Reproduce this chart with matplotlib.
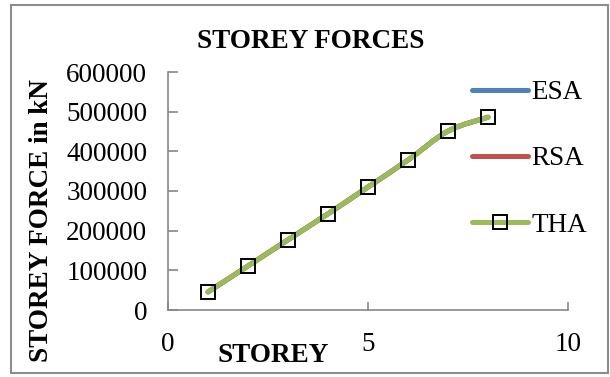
import numpy as np
import matplotlib.pyplot as plt
from matplotlib.path import Path
from matplotlib.patches import PathPatch, Rectangle
from matplotlib.lines import Line2D

# Storey forces (kN) from the three analyses
storey = [1, 2, 3, 4, 5, 6, 7, 8]
esa = [45500, 111000, 177000, 242500, 310000, 378000, 451000, 486000]
rsa = [45500, 111000, 177000, 242500, 310000, 378000, 451000, 486000]
tha = [45500, 111000, 177000, 242500, 310000, 378000, 451000, 486000]

colors = {"ESA": "#4F81BD", "RSA": "#C0504D", "THA": "#9BBB59"}

plt.rcParams['font.family'] = ['Liberation Serif', 'DejaVu Serif']
FS = 19.5


def smooth_path(x, y):
    # Catmull-Rom curve through the points, written as cubic Bezier pieces
    p = np.column_stack([x, y]).astype(float)
    pts = np.vstack([p[0], p, p[-1]])
    verts = [p[0]]
    codes = [Path.MOVETO]
    for i in range(1, len(pts) - 2):
        p0, p1, p2, p3 = pts[i - 1], pts[i], pts[i + 1], pts[i + 2]
        verts += [p1 + (p2 - p0) / 6, p2 - (p3 - p1) / 6, p2]
        codes += [Path.CURVE4] * 3
    return Path(verts, codes)


fig = plt.figure(figsize=(6.10, 3.77), dpi=100)
ax = fig.add_axes([168 / 610, 1 - 310 / 377, 400 / 610, 238 / 377])

for name, vals in [("ESA", esa), ("RSA", rsa), ("THA", tha)]:
    ax.add_patch(PathPatch(smooth_path(storey, vals), facecolor="none",
                           edgecolor=colors[name], lw=3.6, capstyle="round"))
ax.plot(storey, tha, ls="none", marker="s", ms=9.6, mfc="none",
        mec="black", mew=1.4)

ax.set_xlim(0, 10)
ax.set_ylim(0, 600000)
ax.set_xticks([0, 5, 10])
ax.set_yticks(np.arange(0, 600001, 100000))
for s in ["top", "right"]:
    ax.spines[s].set_visible(False)
for s in ["left", "bottom"]:
    ax.spines[s].set_color("#868686")
    ax.spines[s].set_linewidth(1.2)
ax.tick_params(axis="y", direction="in", length=7, width=1.2, color="#868686",
               labelsize=FS, pad=15)
ax.tick_params(axis="x", direction="in", length=6, width=1.2, color="#868686",
               labelsize=FS, pad=16)

fig.text(311 / 610, 1 - 41 / 377, "STOREY FORCES", fontsize=FS,
         fontweight="bold", ha="center", va="center")
fig.text(273 / 610, 1 - 355 / 377, "STOREY", fontsize=FS, fontweight="bold",
         ha="center", va="center")
fig.text(42 / 610, 1 - 220 / 377, "STOREY FORCE in kN", fontsize=FS,
         fontweight="bold", rotation=90, ha="center", va="center")

handles = [
    Line2D([], [], color=colors["ESA"], lw=3.6, solid_capstyle="round"),
    Line2D([], [], color=colors["RSA"], lw=3.6, solid_capstyle="round"),
    Line2D([], [], color=colors["THA"], lw=3.6, solid_capstyle="round",
           marker="s", ms=9.6, mfc="none", mec="black", mew=1.4),
]
fig.legend(handles, ["ESA", "RSA", "THA"], loc="upper left",
           bbox_to_anchor=(472 / 610, 1 - 80 / 377), frameon=False,
           fontsize=FS, handlelength=2.05, handletextpad=0.15,
           labelspacing=1.53, borderpad=0, borderaxespad=0)

fig.add_artist(Rectangle((11 / 610, 1 - 373 / 377), 597 / 610, 368 / 377,
                         transform=fig.transFigure, fill=False,
                         edgecolor="#8c8c8c", lw=1.5))

fig.savefig("out.png", dpi=100)
